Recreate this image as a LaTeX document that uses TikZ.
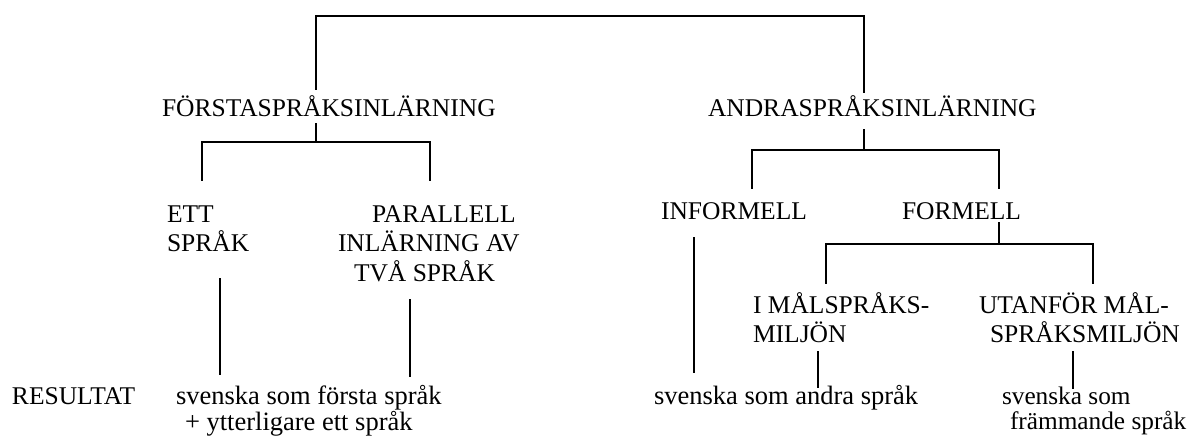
\documentclass[tikz,border=0pt]{standalone}
\usepackage{fontspec}
\setmainfont{Liberation Serif}
\tikzset{
  lbl/.style={anchor=base west, inner sep=0pt, outer sep=0pt, font=\fontsize{25.5}{29.5}\selectfont},
  lbltight/.style={lbl, font=\fontsize{25.5}{28}\selectfont},
  lblsmall/.style={lbl, font=\fontsize{26.5}{24.5}\selectfont},
  lblres/.style={lbl, font=\fontsize{25.3}{24.5}\selectfont},
  conn/.style={draw=black, line width=1.7pt, line cap=rect, line join=miter}
}
\newcommand{\lines}[1]{\begin{tabular}[t]{@{}l@{}}#1\end{tabular}}
\begin{document}
\begin{tikzpicture}[x=1pt,y=-1pt]
\useasboundingbox (0,0) rectangle (1191,437);
% labels
\node[lbl] (forsta) at (162,116) {FÖRSTASPRÅKSINLÄRNING};
\node[lbl] (andra) at (708,116) {ANDRASPRÅKSINLÄRNING};
\node[lbl] (ett) at (167,222) {\lines{ETT\\SPRÅK}};
\node[lbl] (par) at (338,222) {\lines{\hspace*{34pt}PARALLELL\\INLÄRNING AV\\\hspace*{16pt}TVÅ SPRÅK}};
\node[lbl] (inf) at (661,219) {INFORMELL};
\node[lbl] (form) at (902,219) {FORMELL};
\node[lbltight] (imal) at (753,313) {\lines{I MÅLSPRÅKS-\\MILJÖN}};
\node[lbltight] (utan) at (979,313) {\lines{UTANFÖR MÅL-\\\hspace*{11pt}SPRÅKSMILJÖN}};
\node[lbl] (res) at (12,404) {RESULTAT};
\node[lblsmall] (r1) at (176,404) {\lines{svenska som första språk\\\hspace*{9pt}+ ytterligare ett språk}};
\node[lblsmall] (r2) at (654,404) {svenska som andra språk};
\node[lblres] (r3) at (1002,404) {\lines{svenska som\\\hspace*{8pt}främmande språk}};
% connector points
\coordinate (fTop) at (316,89);
\coordinate (aTop) at (864,92);
\coordinate (barY) at (0,16);
\coordinate (fS1) at (316,124);
\coordinate (fS2) at (316,142);
\coordinate (fL) at (202,180);
\coordinate (fR) at (430,180);
\coordinate (aS1) at (864,130);
\coordinate (aS2) at (864,150);
\coordinate (aL) at (752,188);
\coordinate (aR) at (999,188);
\coordinate (ettA) at (220,279);
\coordinate (ettB) at (220,374);
\coordinate (parA) at (410,300);
\coordinate (parB) at (410,376);
\coordinate (infA) at (694,238);
\coordinate (infB) at (694,372);
\coordinate (formS1) at (999,223);
\coordinate (formS2) at (999,244);
\coordinate (formL) at (826,283);
\coordinate (formR) at (1093,283);
\coordinate (imalA) at (818,352);
\coordinate (imalB) at (818,387);
\coordinate (utanA) at (1073,352);
\coordinate (utanB) at (1073,388);
% connectors
\draw[conn] (fTop) -- (fTop |- barY) -- (aTop |- barY) -- (aTop);
\draw[conn] (fS1) -- (fS2);
\draw[conn] (fL) -- (fL |- fS2) -- (fR |- fS2) -- (fR);
\draw[conn] (aS1) -- (aS2);
\draw[conn] (aL) -- (aL |- aS2) -- (aR |- aS2) -- (aR);
\draw[conn] (ettA) -- (ettB);
\draw[conn] (parA) -- (parB);
\draw[conn] (infA) -- (infB);
\draw[conn] (formS1) -- (formS2);
\draw[conn] (formL) -- (formL |- formS2) -- (formR |- formS2) -- (formR);
\draw[conn] (imalA) -- (imalB);
\draw[conn] (utanA) -- (utanB);
\end{tikzpicture}
\end{document}
